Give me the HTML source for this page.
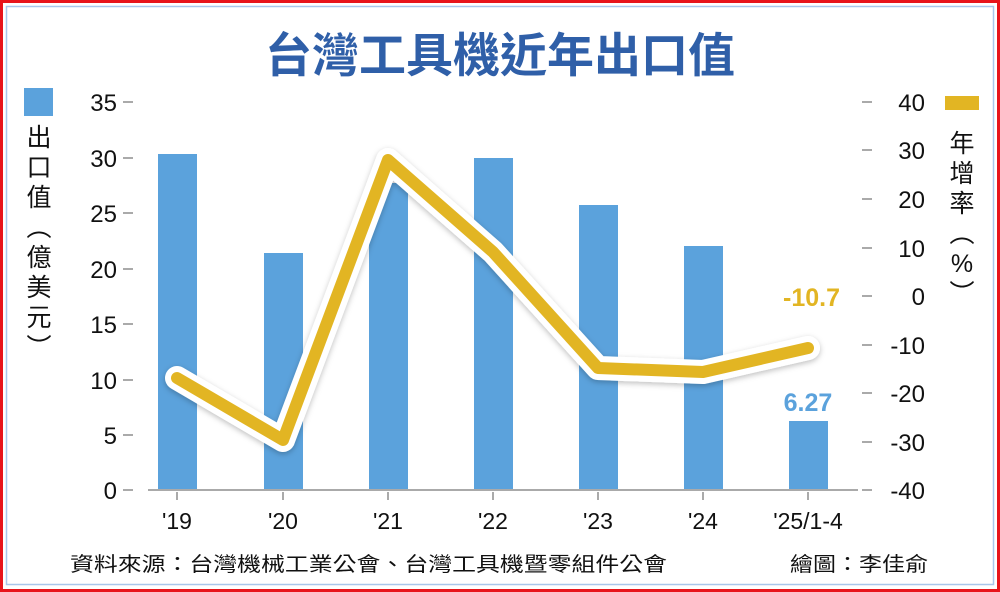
<!DOCTYPE html>
<html><head><meta charset="utf-8"><style>
body{margin:0;background:#fff}
svg{display:block}
text{font-family:"Liberation Sans","Noto Sans CJK TC",sans-serif}
</style></head><body>
<svg width="1000" height="592" viewBox="0 0 1000 592">
<defs><filter id="sh" x="-10%" y="-10%" width="120%" height="120%"><feDropShadow dx="0" dy="2" stdDeviation="3" flood-color="#000" flood-opacity="0.25"/></filter></defs>
<rect x="0" y="0" width="1000" height="592" fill="#fff"/>
<rect x="1.5" y="1.5" width="997" height="589" fill="none" stroke="#e8141b" stroke-width="3"/>
<rect x="6.5" y="6.5" width="987" height="578" fill="none" stroke="#a9c6ea" stroke-width="1.5"/>
<text x="500" y="72" text-anchor="middle" font-size="47" font-weight="bold" fill="#2f5fa8" style="font-family:'Noto Sans CJK TC',sans-serif">台灣工具機近年出口值</text>
<!-- legend left -->
<rect x="24" y="88" width="29" height="28" fill="#5ba2dc"/>
<g font-size="25" fill="#111" text-anchor="middle" style="font-family:'Noto Sans CJK TC',sans-serif">
<text x="39" y="146">出</text><text x="39" y="176">口</text><text x="39" y="206">值</text><text x="39" y="236">︵</text><text x="39" y="266">億</text><text x="39" y="296">美</text><text x="39" y="326">元</text><text x="39" y="356">︶</text>
</g>
<!-- legend right -->
<rect x="945" y="96" width="34" height="14" fill="#e2b523"/>
<g font-size="25" fill="#111" text-anchor="middle" style="font-family:'Noto Sans CJK TC',sans-serif">
<text x="962" y="152">年</text><text x="962" y="182">增</text><text x="962" y="212">率</text><text x="962" y="242">︵</text><text x="962" y="272">%</text><text x="962" y="302">︶</text>
</g>
<!-- left axis -->
<g font-size="24" fill="#111" text-anchor="end">
<text x="117" y="111">35</text><text x="117" y="167">30</text><text x="117" y="222">25</text><text x="117" y="278">20</text><text x="117" y="333">15</text><text x="117" y="389">10</text><text x="117" y="444">5</text><text x="117" y="499">0</text>
</g>
<g stroke="#aaa" stroke-width="2">
<line x1="123" y1="102" x2="133" y2="102"/><line x1="123" y1="158" x2="133" y2="158"/><line x1="123" y1="213" x2="133" y2="213"/><line x1="123" y1="269" x2="133" y2="269"/><line x1="123" y1="324" x2="133" y2="324"/><line x1="123" y1="380" x2="133" y2="380"/><line x1="123" y1="435" x2="133" y2="435"/><line x1="123" y1="490" x2="133" y2="490"/>
<line x1="862" y1="102" x2="872" y2="102"/><line x1="862" y1="150" x2="872" y2="150"/><line x1="862" y1="199" x2="872" y2="199"/><line x1="862" y1="248" x2="872" y2="248"/><line x1="862" y1="296" x2="872" y2="296"/><line x1="862" y1="345" x2="872" y2="345"/><line x1="862" y1="393" x2="872" y2="393"/><line x1="862" y1="442" x2="872" y2="442"/><line x1="862" y1="490" x2="872" y2="490"/>
</g>
<g font-size="24" fill="#111" text-anchor="end">
<text x="925" y="111">40</text><text x="925" y="159">30</text><text x="925" y="208">20</text><text x="925" y="257">10</text><text x="925" y="305">0</text><text x="925" y="354">-10</text><text x="925" y="402">-20</text><text x="925" y="451">-30</text><text x="925" y="499">-40</text>
</g>
<!-- bars -->
<g fill="#5ba2dc">
<rect x="158" y="154" width="39" height="336"/>
<rect x="264" y="253" width="39" height="237"/>
<rect x="369" y="183" width="39" height="307"/>
<rect x="474" y="158" width="39" height="332"/>
<rect x="579" y="205" width="39" height="285"/>
<rect x="684" y="246" width="39" height="244"/>
<rect x="789" y="421" width="39" height="69"/>
</g>
<line x1="148" y1="490" x2="858" y2="490" stroke="#aaa" stroke-width="2"/>
<g stroke="#aaa" stroke-width="2">
<line x1="177" y1="492" x2="177" y2="500"/><line x1="283" y1="492" x2="283" y2="500"/><line x1="388" y1="492" x2="388" y2="500"/><line x1="493" y1="492" x2="493" y2="500"/><line x1="598" y1="492" x2="598" y2="500"/><line x1="703" y1="492" x2="703" y2="500"/><line x1="808" y1="492" x2="808" y2="500"/>
</g>
<g font-size="23" fill="#111" text-anchor="middle">
<text x="177" y="529">'19</text><text x="283" y="529">'20</text><text x="388" y="529">'21</text><text x="493" y="529">'22</text><text x="598" y="529">'23</text><text x="703" y="529">'24</text><text x="808" y="529">'25/1-4</text>
</g>
<!-- line -->
<polyline points="177,378 283,440 388,160 493,252 598,368 703,372 808,348" fill="none" stroke="#fff" stroke-width="24" stroke-linejoin="round" stroke-linecap="round" filter="url(#sh)"/>
<polyline points="177,378 283,440 388,160 493,252 598,368 703,372 808,348" fill="none" stroke="#e2b523" stroke-width="12" stroke-linejoin="round" stroke-linecap="round"/>
<text x="840" y="306" text-anchor="end" font-size="25" font-weight="bold" fill="#e2b523">-10.7</text>
<text x="808" y="411" text-anchor="middle" font-size="25" font-weight="bold" fill="#5ba2dc">6.27</text>
<!-- footer -->
<g font-size="20" fill="#111" style="font-family:'Noto Sans CJK TC',sans-serif">
<text x="70" y="571" textLength="597" lengthAdjust="spacingAndGlyphs">資料來源：台灣機械工業公會、台灣工具機暨零組件公會</text>
<text x="790" y="571" textLength="138" lengthAdjust="spacingAndGlyphs">繪圖：李佳俞</text>
</g>
</svg>
</body></html>
